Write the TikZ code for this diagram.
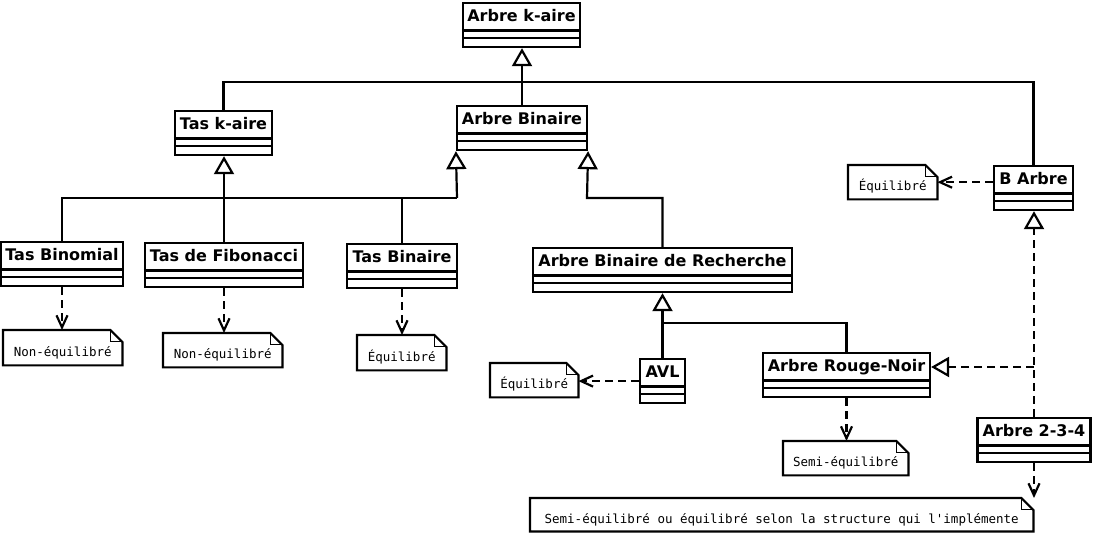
\documentclass[tikz,border=0pt]{standalone}
\usepackage{fontspec}
\newfontfamily\classfont{DejaVu Sans}
\newfontfamily\notefont{DejaVu Sans Mono}
\usetikzlibrary{arrows.meta}

\tikzset{
  trait/.style={line width=2.2pt},
  classe/.style={draw, trait, minimum height=44pt, inner xsep=3pt, inner ysep=0pt,
    text height=18.5pt, text depth=25.5pt, anchor=north,
    font=\classfont\bfseries\fontsize{16}{19}\selectfont},
  remarque/.style={anchor=north west, inner sep=0pt, text height=19pt, text depth=2pt,
    font=\notefont\fontsize{12.5}{15}\selectfont},
  herite/.style={trait, -{Triangle[open,length=18pt,width=20pt]}},
  realise/.style={herite, dash pattern=on 8pt off 5pt},
  depend/.style={trait, dash pattern=on 8pt off 5pt, -{Straight Barb[length=12pt,width=11pt]}},
}

\begin{document}
\begin{tikzpicture}[x=1pt,y=-1pt]
        \useasboundingbox (0,0) rectangle (1093,534);

        % classes
        \node[classe, minimum width=117pt] (kaire) at (521.5,2) {Arbre k-aire};
        \node[classe, minimum width=130pt] (binaire) at (522,105) {Arbre Binaire};
        \node[classe, minimum width=97pt] (taskaire) at (223.5,110) {Tas k-aire};
        \node[classe, minimum width=122pt] (binomial) at (62,241) {Tas Binomial};
        \node[classe, minimum width=158pt] (fibo) at (224,242) {Tas de Fibonacci};
        \node[classe, minimum width=110pt] (tasbin) at (402,243) {Tas Binaire};
        \node[classe, minimum width=259pt] (abr) at (662.5,247) {Arbre Binaire de Recherche};
        \node[classe, minimum width=45pt] (avl) at (662.5,358) {AVL};
        \node[classe, minimum width=167pt] (arn) at (846.5,352) {Arbre Rouge-Noir};
        \node[classe, minimum width=79pt] (barbre) at (1033.5,165) {B Arbre};
        \node[classe, minimum width=113pt] (a234) at (1034,417) {Arbre 2-3-4};

        \foreach \c in {kaire,binaire,taskaire,binomial,fibo,tasbin,abr,avl,arn,barbre,a234} {
            \draw[trait] ([yshift=-28.5pt]\c.north west) -- ([yshift=-28.5pt]\c.north east);
            \draw[trait] ([yshift=-36pt]\c.north west) -- ([yshift=-36pt]\c.north east);
        }

        % notes
        \node[remarque, minimum width=119pt, minimum height=35pt] (nbin) at (3,330) {Non-équilibré};
        \node[remarque, minimum width=119pt, minimum height=34pt] (nfib) at (163,333) {Non-équilibré};
        \node[remarque, minimum width=89pt, minimum height=35pt] (ntas) at (357,335) {Équilibré};
        \node[remarque, minimum width=88pt, minimum height=34pt] (navl) at (490,363) {Équilibré};
        \node[remarque, minimum width=125pt, minimum height=34pt] (narn) at (783,441) {Semi-équilibré};
        \node[remarque, minimum width=89pt, minimum height=34pt] (nbarb) at (848,165) {Équilibré};
        \node[remarque, minimum width=503pt, minimum height=33pt] (n234) at (530,498) {Semi-équilibré ou équilibré selon la structure qui l'implémente};

        \foreach \n in {nbin,nfib,ntas,navl,narn,nbarb,n234} {
            \draw[trait] (\n.north west) -- ([xshift=-12pt]\n.north east) -- ([yshift=-12pt]\n.north east)
                -- (\n.south east) -- (\n.south west) -- cycle;
            \draw[line width=1pt] ([xshift=-12pt]\n.north east) |- ([yshift=-12pt]\n.north east);
        }

        \coordinate (jhaut) at (522,82);
        \coordinate (jtas) at (457,198);
        \coordinate (jabr) at (587,198);
        \coordinate (javl) at (663,323);
        \coordinate (jarn) at (1034,367);

        % heritage
        \draw[herite] (binaire.north) -- (binaire.north |- kaire.south);
        \draw[trait] (taskaire.north) |- (jhaut) -| (barbre.north);
        \draw[herite] (fibo.north) -- (fibo.north |- taskaire.south);
        \draw[trait] (binomial.north) |- (jtas);
        \draw[trait] (tasbin.north) -- (tasbin.north |- jtas);
        \draw[herite] (jtas) -- (binaire.south west);
        \draw[herite] (abr.north) |- (jabr) -- (binaire.south east);
        \draw[herite] (avl.north) -- (avl.north |- abr.south);
        \draw[trait] (javl) -| (arn.north);
        \draw[realise] (a234.north) -- (a234.north |- barbre.south);
        \draw[realise] (jarn) -- (arn.east |- jarn);

        % dependances
        \draw[depend] (binomial.south) -- (binomial.south |- nbin.north);
        \draw[depend] (fibo.south) -- (fibo.south |- nfib.north);
        \draw[depend] (tasbin.south) -- (tasbin.south |- ntas.north);
        \draw[depend] (avl.west) -- (avl.west -| navl.east);
        \draw[depend] (arn.south) -- (arn.south |- narn.north);
        \draw[depend] (barbre.west |- nbarb.east) -- (nbarb.east);
        \draw[depend] (a234.south) -- (a234.south |- n234.north);

\end{tikzpicture}
\end{document}
